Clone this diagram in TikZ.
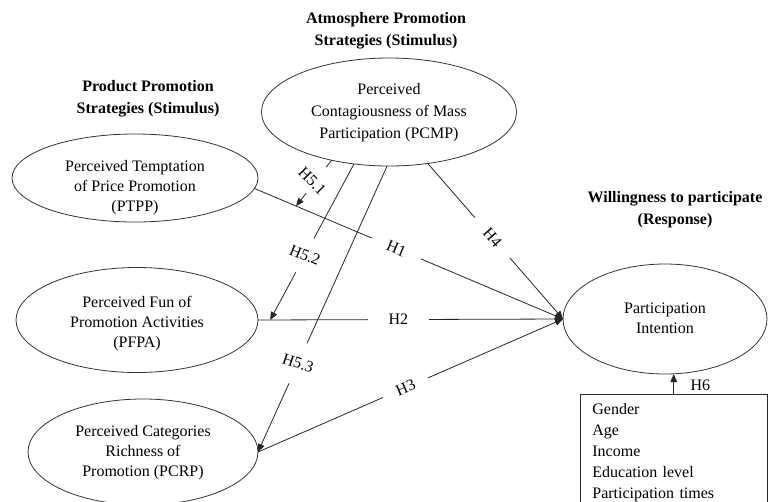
\documentclass[tikz,border=0pt]{standalone}
\usepackage{fontspec}
\setmainfont{Liberation Serif}
\usetikzlibrary{arrows.meta,shapes.geometric,calc}
\begin{document}
\begin{tikzpicture}[x=0.75pt,y=-0.75pt,
  ell/.style={draw=black!80, line width=0.6pt, ellipse, inner sep=0pt, outer sep=0pt},
  etext/.style={align=center, font=\fontsize{12pt}{15pt}\selectfont, inner sep=0pt},
  head/.style={align=center, font=\fontsize{12pt}{16.5pt}\selectfont\bfseries, inner sep=0pt},
  conn/.style={line width=0.6pt, draw=black!85},
  arr/.style={conn, -{Triangle[length=6pt,width=5pt]}},
  hlab/.style={font=\fontsize{12pt}{14pt}\selectfont, inner sep=0pt}]
\useasboundingbox (0,0) rectangle (768,501);

% headers
\node[head] (hatm) at (386,31) {Atmosphere Promotion\\Strategies (Stimulus)};
\node[head] (hprod) at (148,99) {Product Promotion\\Strategies (Stimulus)};
\node[head] (hwill) at (675,210) {Willingness to participate\\(Response)};

% ellipses
\node[ell, minimum width=191.25pt, minimum height=81pt] (pcmp) at (389,112) {};
\node[etext, font=\fontsize{12pt}{16.5pt}\selectfont] (pcmpt) at (389,113) {Perceived\\Contagiousness of Mass\\Participation (PCMP)};

\node[ell, minimum width=184.5pt, minimum height=66pt] (ptpp) at (135,178) {};
\node[etext] (ptppt) at (135,188) {Perceived Temptation\\of Price Promotion\\(PTPP)};

\node[ell, minimum width=181.5pt, minimum height=78.75pt] (pfpa) at (137,320) {};
\node[etext] (pfpat) at (137,324) {Perceived Fun of\\Promotion Activities\\(PFPA)};

\node[ell, minimum width=172.5pt, minimum height=79.5pt] (pcrp) at (143,452) {};
\node[etext] (pcrpt) at (143,453) {Perceived Categories\\Richness of\\Promotion (PCRP)};

\node[ell, minimum width=153pt, minimum height=82.5pt] (pi) at (665,319) {};
\node[etext] (pit) at (665,318) {Participation\\Intention};

% control variables box
\node[draw=black!85, line width=0.6pt, anchor=north west, text width=122pt,
      inner xsep=9pt, inner ysep=6.5pt, align=left,
      font=\fontsize{12pt}{15.75pt}\selectfont] (box) at (580,394)
      {Gender\\Age\\Income\\Education level\\Participation times};

% H1
\path (ptpp.-5) -- (pi.west) coordinate[pos=0.38] (h1a) coordinate[pos=0.54] (h1b)
  coordinate[pos=0.135] (m1) node[hlab, sloped, pos=0.46] (lh1) {H1};
\draw[conn] (ptpp.-5) -- (h1a);
\draw[arr] (h1b) -- (pi.west);

% H2
\path (pfpa.east) -- (pi.west) coordinate[pos=0.36] (h2a) coordinate[pos=0.56] (h2b)
  coordinate[pos=0.04] (m2) node[hlab, pos=0.46] (lh2) {H2};
\draw[conn] (pfpa.east) -- (h2a);
\draw[arr] (h2b) -- (pi.west);

% H3
\path (pcrp.east) -- (pi.west) coordinate[pos=0.41] (h3a) coordinate[pos=0.557] (h3b)
  node[hlab, sloped, pos=0.484] (lh3) {H3};
\draw[conn] (pcrp.east) -- (h3a);
\draw[arr] (h3b) -- (pi.west);

% H4
\path (pcmp.-53) -- (pi.west) coordinate[pos=0.348] (h4a) coordinate[pos=0.607] (h4b)
  node[hlab, sloped, pos=0.478] (lh4) {H4};
\draw[conn] (pcmp.-53) -- (h4a);
\draw[arr] (h4b) -- (pi.west);

% H5.1
\path (pcmp.-140) -- (m1) coordinate[pos=0.15] (h51a) coordinate[pos=0.72] (h51b)
  node[hlab, rotate=-45, pos=0.45, xshift=-1.5pt, yshift=-2pt] (lh51) {H5.1};
\draw[conn] (pcmp.-140) -- (h51a);
\draw[arr] (h51b) -- (m1);

% H5.2
\path (pcmp.-124) -- (m2) coordinate[pos=0.476] (h52a) coordinate[pos=0.695] (h52b)
  node[hlab, rotate=-22, pos=0.585] (lh52) {H5.2};
\draw[conn] (pcmp.-124) -- (h52a);
\draw[arr] (h52b) -- (m2);

% H5.3
\path (pcmp.-92) -- (pcrp.east) coordinate[pos=0.62] (h53a) coordinate[pos=0.76] (h53b)
  node[hlab, rotate=-18, pos=0.69] (lh53) {H5.3};
\draw[conn] (pcmp.-92) -- (h53a);
\draw[arr] (h53b) -- (pcrp.east);

% H6
\draw[arr] (box.north) -- (box.north |- pi.south)
  node[hlab, pos=0.45, xshift=20pt] (lh6) {H6};
\end{tikzpicture}
\end{document}
